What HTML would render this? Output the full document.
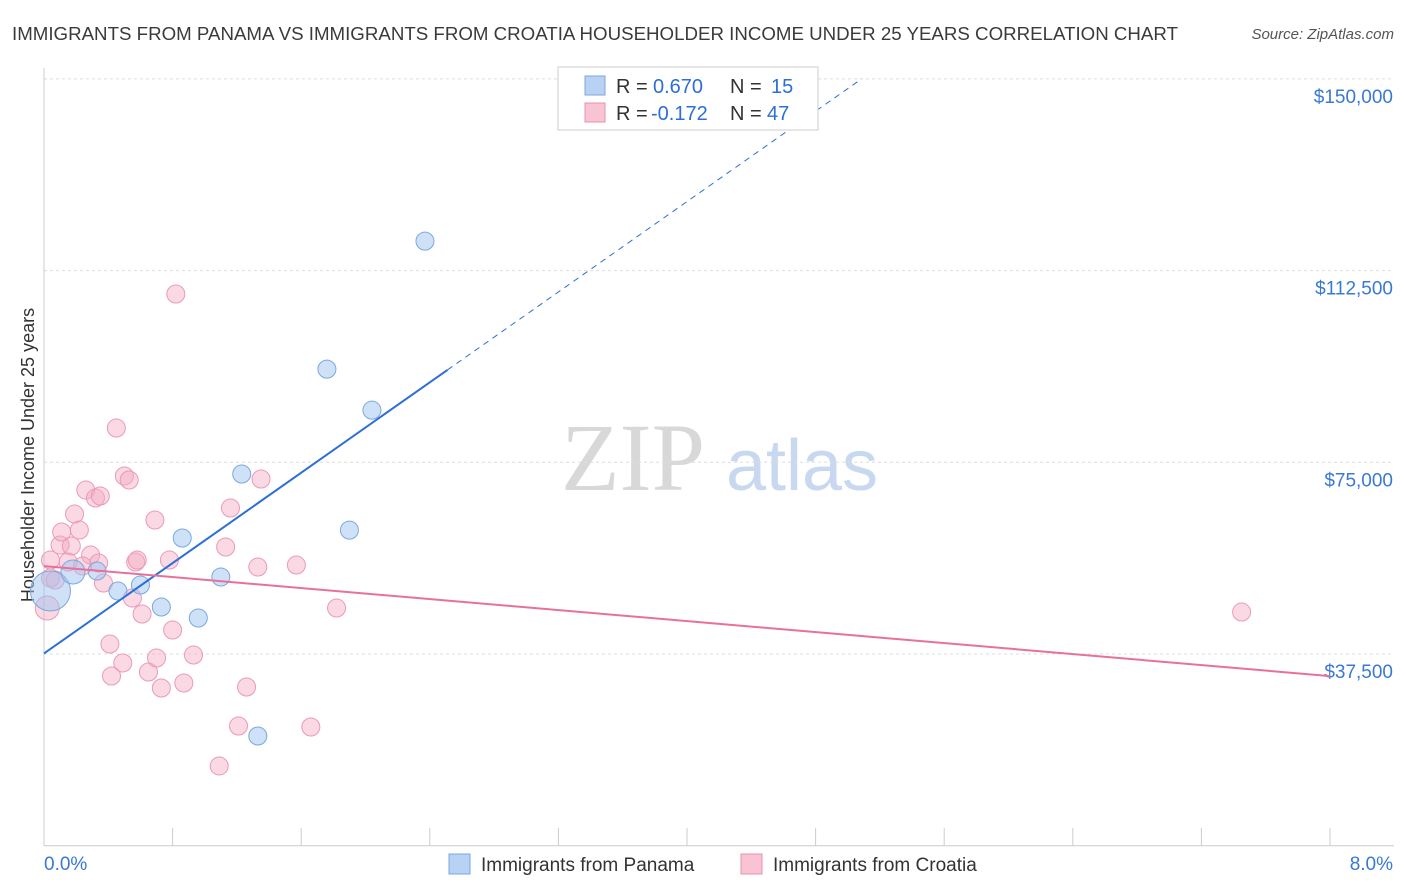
<!DOCTYPE html>
<html><head><meta charset="utf-8"><style>
body{margin:0;background:#fff;font-family:"Liberation Sans",sans-serif;}
svg{display:block}
</style></head><body>
<svg id="chart" width="1406" height="892">
<text x="12" y="40" font-size="18" fill="#3a3a3a" textLength="1166" lengthAdjust="spacingAndGlyphs">IMMIGRANTS FROM PANAMA VS IMMIGRANTS FROM CROATIA HOUSEHOLDER INCOME UNDER 25 YEARS CORRELATION CHART</text>
<text x="1394" y="39" font-size="15" fill="#555" font-style="italic" text-anchor="end">Source: ZipAtlas.com</text>
<text x="34" y="455" font-size="18" fill="#333" text-anchor="middle" transform="rotate(-90 34 455)">Householder Income Under 25 years</text>
<g>
<text x="633" y="490" font-size="96" fill="#d8d8d8" font-family="Liberation Serif,serif" text-anchor="middle">ZIP</text>
<text x="802" y="490" font-size="72" fill="#c8d8f0" text-anchor="middle">atlas</text>
</g>
<g id="grid"></g>
<g id="marks"></g>
<g>
<rect x="558" y="67" width="260" height="63" fill="#fff" stroke="#ccc"/>
<rect x="585" y="76" width="20" height="19" fill="#b8d2f4" stroke="#7aa8e0"/>
<rect x="585" y="103" width="20" height="19" fill="#f8c4d4" stroke="#e890ac"/>
<text x="616" y="93" font-size="20" fill="#333">R =</text>
<text x="653" y="93" font-size="20" fill="#2c6fd6">0.670</text>
<text x="730" y="93" font-size="20" fill="#333">N =</text>
<text x="771" y="93" font-size="20" fill="#2c6fd6">15</text>
<text x="616" y="120" font-size="20" fill="#333">R =</text>
<text x="651" y="120" font-size="20" fill="#2c6fd6">-0.172</text>
<text x="730" y="120" font-size="20" fill="#333">N =</text>
<text x="767" y="120" font-size="20" fill="#2c6fd6">47</text>
</g>
<g>
<rect x="449" y="854" width="21" height="20" fill="#b8d2f4" stroke="#7aa8e0"/>
<text x="481" y="871" font-size="19" fill="#333">Immigrants from Panama</text>
<rect x="741" y="854" width="21" height="20" fill="#f8c4d4" stroke="#e890ac"/>
<text x="773" y="871" font-size="19" fill="#333">Immigrants from Croatia</text>
</g>
</svg>
<script>
const yTicks=[37500,75000,112500,150000];
const yTickLabels=["$37,500","$75,000","$112,500","$150,000"];
const xTickLabels=["0.0%","8.0%"];
const panamaX=[0.04,0.18,0.33,0.46,0.60,0.73,0.86,0.96,1.10,1.23,1.33,1.76,1.90,2.04,2.37];
const panamaY=[49820,53540,53730,49820,51000,46690,60190,44540,52560,72710,21460,93230,61730,85200,118270];
const panamaR=[20,12,9,9,9,9,9,9,9,9,9,9,9,9,9];
const croatiaX=[0.04,0.02,0.07,0.10,0.11,0.19,0.17,0.22,0.26,0.29,0.32,0.35,0.34,0.37,0.41,0.42,0.45,0.49,0.50,0.53,0.55,0.57,0.58,0.61,0.65,0.69,0.70,0.73,0.78,0.80,0.82,0.87,0.93,1.09,1.13,1.16,1.21,1.26,1.33,1.35,1.57,1.66,1.82,7.45,0.15,0.24,0.04];
const croatiaY=[52360,46490,51970,58820,61360,64880,58620,61750,69570,56860,68010,68400,55300,51390,39450,33200,81700,35740,72320,71540,48450,55490,55880,45320,33980,63710,36720,30850,55880,42190,107920,31830,37310,15600,58430,66060,23410,31040,54510,71730,54900,23220,46490,45710,55490,54710,55880];
const croatiaR=[9,12,9,9,9,9,9,9,9,9,9,9,9,9,9,9,9,9,9,9,9,9,9,9,9,9,9,9,9,9,9,9,9,9,9,9,9,9,9,9,9,9,9,9,9,9,9];
const panamaTrend=[37600,22100];
const croatiaTrend=[54700,-2690];
const X0=44,X1=1330,Y0=845.7,PX=191.7/37500;
const sx=v=>X0+(X1-X0)*v/8, sy=v=>Y0-v*PX;
const NS="http://www.w3.org/2000/svg";
function mk(tag,attrs,parent){const e=document.createElementNS(NS,tag);for(const k in attrs)e.setAttribute(k,attrs[k]);parent.appendChild(e);return e;}
const grid=document.getElementById('grid'),marks=document.getElementById('marks');
yTicks.forEach((t,i)=>{
 const g=mk('line',{x1:X0,x2:1394,y1:sy(t),y2:sy(t),stroke:'#ddd','stroke-dasharray':'3,3'},grid);
 
 
 const l=mk('text',{x:1393,y:sy(t)+24,'font-size':19,fill:'#3a78d4','text-anchor':'end'},grid);
 l.textContent=yTickLabels[i];
 
 
});
const ax=mk('line',{x1:X0,x2:1394,y1:Y0,y2:Y0,stroke:'#ccc'},grid);


const ay=mk('line',{x1:X0,x2:X0,y1:68,y2:Y0,stroke:'#ccc'},grid);


for(let i=0;i<=10;i++){
 const t=mk('line',{x1:sx(i*0.8),x2:sx(i*0.8),y1:828,y2:Y0,stroke:'#ccc'},grid);
 
 
}
[[0,'start',44],[8,'end',1393]].forEach((d,i)=>{
 const l=mk('text',{x:d[2],y:870,'font-size':19,fill:'#3a78d4','text-anchor':d[1]},grid);
 l.textContent=xTickLabels[i];
 
 
});
croatiaX.forEach((x,i)=>{
 const c=mk('circle',{cx:sx(x),cy:sy(croatiaY[i]),r:croatiaR[i],fill:'rgba(245,170,196,0.45)',stroke:'#eb9ab4','stroke-width':1},marks);
 
 
});
panamaX.forEach((x,i)=>{
 const c=mk('circle',{cx:sx(x),cy:sy(panamaY[i]),r:panamaR[i],fill:'rgba(160,195,240,0.5)',stroke:'#7aa8e0','stroke-width':1},marks);
 
 
});
const pf=x=>panamaTrend[0]+panamaTrend[1]*x;
const xs=2.51, xe=(150000-panamaTrend[0])/panamaTrend[1];
const l1=mk('line',{x1:sx(0),y1:sy(pf(0)),x2:sx(xs),y2:sy(pf(xs)),stroke:'#2c6fd6','stroke-width':2},marks);


const l2=mk('line',{x1:sx(xs),y1:sy(pf(xs)),x2:sx(xe),y2:sy(pf(xe)),stroke:'#2c6fd6','stroke-width':1,'stroke-dasharray':'6,5'},marks);


const cf=x=>croatiaTrend[0]+croatiaTrend[1]*x;
const l3=mk('line',{x1:sx(0),y1:sy(cf(0)),x2:sx(8),y2:sy(cf(8)),stroke:'#e8709a','stroke-width':2},marks);


</script>
</body></html>
